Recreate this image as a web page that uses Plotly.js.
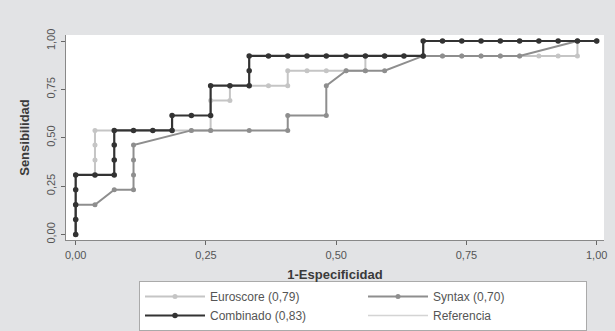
<!DOCTYPE html>
<html>
<head>
<meta charset="utf-8">
<script src="https://cdn.plot.ly/plotly-3.0.1.min.js"></script>
<style>
html,body{margin:0;padding:0;background:#e2e3e5;}
#chart{width:615px;height:331px;}
.legend .traces{opacity:1 !important;}
</style>
</head>
<body>
<div id="chart"></div>
<script>
// 1-Especificidad / Sensibilidad
var euroscoreX = [0,0,0,0,0,0.037,0.037,0.037,0.037,0.074,0.111,0.148,0.185,0.222,0.259,0.259,0.296,0.296,0.333,0.370,0.407,0.407,0.444,0.481,0.519,0.556,0.556,0.593,0.630,0.667,0.704,0.741,0.778,0.815,0.852,0.889,0.926,0.963,0.963,1];
var euroscoreY = [0,0.077,0.154,0.231,0.308,0.308,0.385,0.462,0.538,0.538,0.538,0.538,0.538,0.538,0.538,0.692,0.692,0.769,0.769,0.769,0.769,0.846,0.846,0.846,0.846,0.846,0.923,0.923,0.923,0.923,0.923,0.923,0.923,0.923,0.923,0.923,0.923,0.923,1,1];

var syntaxX = [0,0,0,0.037,0.074,0.111,0.111,0.111,0.111,0.222,0.259,0.333,0.407,0.407,0.481,0.481,0.519,0.556,0.593,0.667,0.704,0.741,0.778,0.815,0.852,0.963,1];
var syntaxY = [0,0.077,0.154,0.154,0.231,0.231,0.308,0.385,0.462,0.538,0.538,0.538,0.538,0.615,0.615,0.769,0.846,0.846,0.846,0.923,0.923,0.923,0.923,0.923,0.923,1,1];

var combinadoX = [0,0,0,0,0,0.037,0.074,0.074,0.074,0.074,0.111,0.148,0.185,0.185,0.222,0.259,0.259,0.296,0.333,0.333,0.333,0.370,0.407,0.444,0.481,0.519,0.556,0.593,0.630,0.667,0.667,0.704,0.741,0.778,0.815,0.852,0.889,0.926,0.963,1];
var combinadoY = [0,0.077,0.154,0.231,0.308,0.308,0.308,0.385,0.462,0.538,0.538,0.538,0.538,0.615,0.615,0.615,0.769,0.769,0.769,0.846,0.923,0.923,0.923,0.923,0.923,0.923,0.923,0.923,0.923,0.923,1,1,1,1,1,1,1,1,1,1];

// reference diagonal: listed in the legend, not visible inside the plot of the reference
var referenciaX = [0,1];
var referenciaY = [0,1];

var seriesNames = ["Euroscore (0,79)", "Syntax (0,70)", "Combinado (0,83)", "Referencia"];
var tickVals = [0, 0.25, 0.5, 0.75, 1];
var tickText = ["0,00", "0,25", "0,50", "0,75", "1,00"];

var traces = [
  {x: referenciaX, y: referenciaY, name: seriesNames[3], mode: 'lines', legendrank: 4,
   visible: 'legendonly',
   line: {color: '#d4d4d4', width: 1.3}},
  {x: euroscoreX, y: euroscoreY, name: seriesNames[0], mode: 'lines+markers', legendrank: 1,
   line: {color: '#c5c5c5', width: 2}, marker: {color: '#c5c5c5', size: 5}},
  {x: syntaxX, y: syntaxY, name: seriesNames[1], mode: 'lines+markers', legendrank: 2,
   line: {color: '#8e8e8e', width: 2}, marker: {color: '#8e8e8e', size: 5}},
  {x: combinadoX, y: combinadoY, name: seriesNames[2], mode: 'lines+markers', legendrank: 3,
   line: {color: '#333333', width: 2.2}, marker: {color: '#333333', size: 5.5}}
];

var layout = {
  width: 615, height: 331,
  paper_bgcolor: '#e2e3e5',
  plot_bgcolor: '#ffffff',
  margin: {l: 66, r: 11, t: 35, b: 91, autoexpand: false},
  font: {family: 'Liberation Sans, Arial, sans-serif', color: '#555555'},
  showlegend: true,
  xaxis: {
    range: [-0.0186, 1.014],
    tickvals: tickVals, ticktext: tickText,
    ticks: 'outside', ticklen: 4, tickwidth: 1, tickcolor: '#666666',
    ticklabelstandoff: 1,
    showline: true, linecolor: '#888888', linewidth: 1,
    showgrid: false, zeroline: false, automargin: false,
    tickfont: {size: 11, color: '#555555'},
    title: {text: '1-Especificidad', font: {size: 13, color: '#3a3a3a', weight: 'bold'}, standoff: 9}
  },
  yaxis: {
    range: [-0.0284, 1.031],
    tickvals: tickVals, ticktext: tickText, tickangle: -90,
    ticks: 'outside', ticklen: 4, tickwidth: 1, tickcolor: '#666666',
    ticklabelstandoff: 2,
    showline: true, linecolor: '#888888', linewidth: 1,
    showgrid: false, zeroline: false, automargin: false,
    tickfont: {size: 11, color: '#555555'},
    title: {text: 'Sensibilidad', font: {size: 13, color: '#3a3a3a', weight: 'bold'}, standoff: 12}
  },
  legend: {
    orientation: 'h',
    x: 0.1357, xanchor: 'left',
    y: -0.2, yanchor: 'top',
    bgcolor: '#ffffff', bordercolor: '#aaaaaa', borderwidth: 1,
    entrywidth: 148, entrywidthmode: 'pixels',
    itemwidth: 60,
    font: {size: 12, color: '#555555'},
    traceorder: 'normal',
    itemclick: false, itemdoubleclick: false
  }
};

Plotly.newPlot('chart', traces, layout, {displayModeBar: false, staticPlot: true});
</script>
</body>
</html>
